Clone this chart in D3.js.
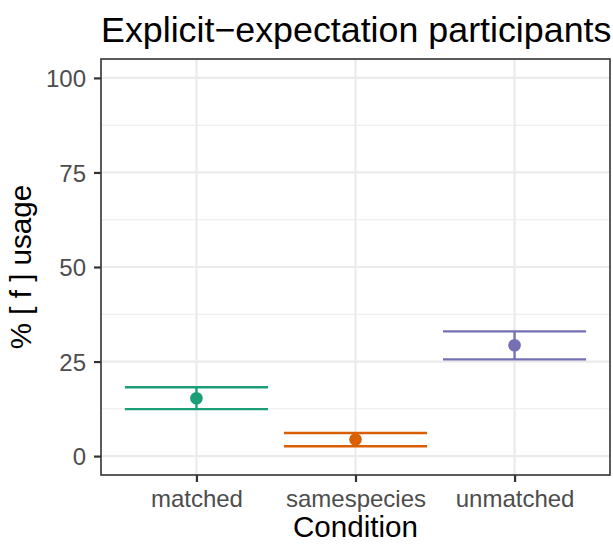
<!DOCTYPE html>
<html>
<head>
<meta charset="utf-8">
<script src="https://cdn.jsdelivr.net/npm/d3@7"></script>
<style>
  body { margin: 0; background: #fff; }
  text { font-family: "Liberation Sans", Arial, sans-serif; }
</style>
</head>
<body>
<div id="chart"></div>
<script>
const conditions = ["matched", "samespecies", "unmatched"];
const means = [15.3, 4.4, 29.3];
const lower = [12.4, 2.6, 25.6];
const upper = [18.2, 6.1, 33.0];
const yTicks = [0, 25, 50, 75, 100];
const yMinor = [12.5, 37.5, 62.5, 87.5];
const colors = ["#1B9E77", "#D95F02", "#7570B3"];

const rows = conditions.map((c, i) => ({ c, m: means[i], lo: lower[i], hi: upper[i], col: colors[i] }));

const W = 613, H = 544;
const margin = { top: 59, right: 3, bottom: 69, left: 101 };
const width = W - margin.left - margin.right;
const height = H - margin.top - margin.bottom;

const svg = d3.select("#chart").append("svg")
  .attr("width", W)
  .attr("height", H);

const g = svg.append("g")
  .attr("transform", `translate(${margin.left},${margin.top})`);

const x = d3.scalePoint()
  .domain(conditions)
  .range([0, width])
  .padding(0.6);

const y = d3.scaleLinear()
  .domain([-5, 105])
  .range([height, 0]);

// grid
g.selectAll(".minor")
  .data(yMinor)
  .enter().append("line")
  .attr("x1", 0).attr("x2", width)
  .attr("y1", d => y(d)).attr("y2", d => y(d))
  .attr("stroke", "#EBEBEB").attr("stroke-width", 1.1);

g.selectAll(".major-y")
  .data(yTicks)
  .enter().append("line")
  .attr("x1", 0).attr("x2", width)
  .attr("y1", d => y(d)).attr("y2", d => y(d))
  .attr("stroke", "#EBEBEB").attr("stroke-width", 2.2);

g.selectAll(".major-x")
  .data(conditions)
  .enter().append("line")
  .attr("x1", d => x(d)).attr("x2", d => x(d))
  .attr("y1", 0).attr("y2", height)
  .attr("stroke", "#EBEBEB").attr("stroke-width", 2.2);

// error bars
const half = x.step() * 0.45;
const bars = g.selectAll(".eb")
  .data(rows)
  .enter().append("g");

bars.append("line")
  .attr("x1", d => x(d.c)).attr("x2", d => x(d.c))
  .attr("y1", d => y(d.lo)).attr("y2", d => y(d.hi))
  .attr("stroke", d => d.col).attr("stroke-width", 2.3);

bars.append("line")
  .attr("x1", d => x(d.c) - half).attr("x2", d => x(d.c) + half)
  .attr("y1", d => y(d.hi)).attr("y2", d => y(d.hi))
  .attr("stroke", d => d.col).attr("stroke-width", 2.3);

bars.append("line")
  .attr("x1", d => x(d.c) - half).attr("x2", d => x(d.c) + half)
  .attr("y1", d => y(d.lo)).attr("y2", d => y(d.lo))
  .attr("stroke", d => d.col).attr("stroke-width", 2.3);

bars.append("circle")
  .attr("cx", d => x(d.c))
  .attr("cy", d => y(d.m))
  .attr("r", 6.3)
  .attr("fill", d => d.col);

// panel border
g.append("rect")
  .attr("width", width).attr("height", height)
  .attr("fill", "none")
  .attr("stroke", "#333333").attr("stroke-width", 1.6);

// axes
const yAxis = g.append("g")
  .call(d3.axisLeft(y).tickValues(yTicks).tickSize(7).tickPadding(8));
const xAxis = g.append("g")
  .attr("transform", `translate(0,${height})`)
  .call(d3.axisBottom(x).tickSize(7).tickPadding(8));

[yAxis, xAxis].forEach(a => {
  a.select(".domain").remove();
  a.selectAll(".tick line").attr("stroke", "#333333").attr("stroke-width", 2.2);
  a.selectAll(".tick text")
    .attr("fill", "#4D4D4D")
    .style("font-size", "24px")
    .style("font-family", "'Liberation Sans', Arial, sans-serif");
});
yAxis.selectAll(".tick text").attr("dy", "0.36em");
xAxis.selectAll(".tick text").attr("dy", "0.71em");

// titles
svg.append("text")
  .attr("x", margin.left)
  .attr("y", 42)
  .style("font-size", "35.8px")
  .attr("fill", "#000")
  .text("Explicit\u2212expectation participants");

svg.append("text")
  .attr("x", margin.left + width / 2)
  .attr("y", 537)
  .attr("text-anchor", "middle")
  .style("font-size", "29.6px")
  .attr("fill", "#000")
  .text("Condition");

svg.append("text")
  .attr("transform", `translate(31,${margin.top + height / 2}) rotate(-90)`)
  .attr("text-anchor", "middle")
  .style("font-size", "29.6px")
  .attr("fill", "#000")
  .text("% [ f ] usage");
</script>
</body>
</html>
